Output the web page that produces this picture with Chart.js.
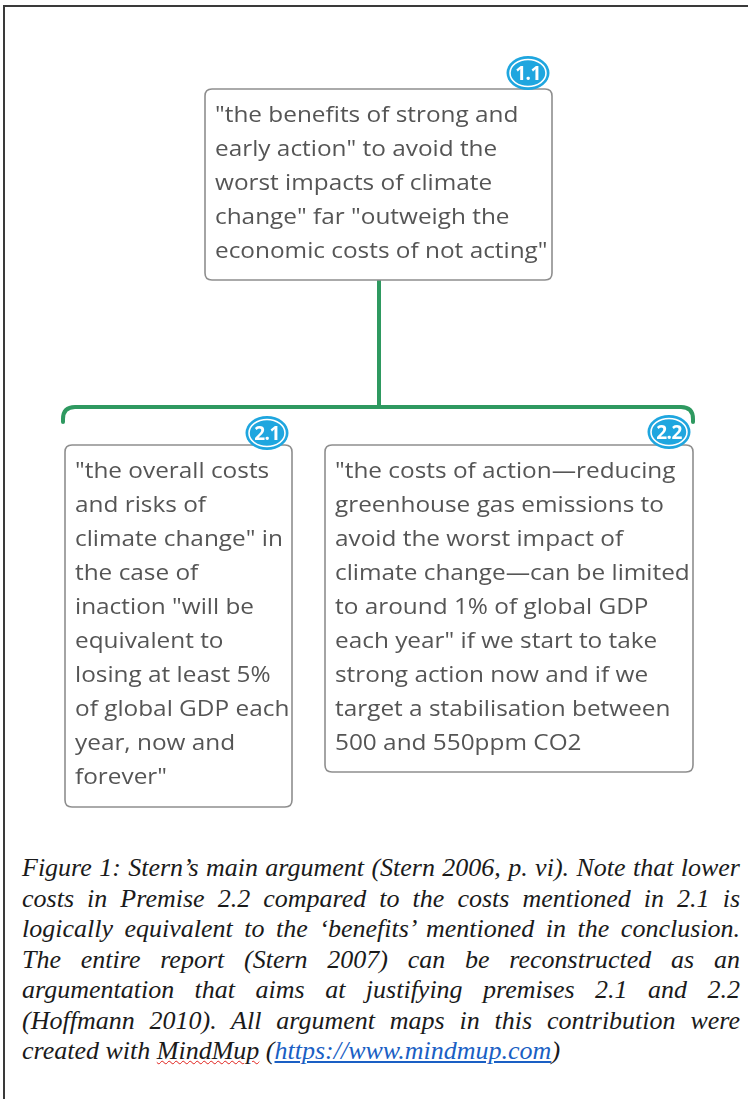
<!DOCTYPE html>
<html>
<head>
<meta charset="utf-8">
<script src="https://cdn.jsdelivr.net/npm/chart.js@4.4.1/dist/chart.umd.min.js"></script>
<style>
  html, body { margin: 0; padding: 0; background: #fff; }
  body { width: 748px; height: 1099px; position: relative; overflow: hidden; }
  #frame { position: absolute; left: 3px; top: 5px; width: 800px; height: 1200px;
           border-left: 2px solid #3a3a3a; border-top: 2px solid #3a3a3a; }
  #map { position: absolute; left: 0; top: 0; }
  .node { position: absolute; font-family: 'Open Sans', sans-serif; font-size: 21px;
          line-height: 34px; color: #555; white-space: nowrap;
          transform: scaleX(1.16); transform-origin: 0 0; }
  .badge { position: absolute; font-family: 'Open Sans', sans-serif; font-weight: bold;
           color: #fff; font-size: 19px; text-align: center; letter-spacing: -0.5px; }
  #caption { position: absolute; left: 22px; top: 853px; width: 718px;
             font-family: 'Liberation Serif', serif; font-style: italic; font-size: 26px;
             line-height: 30.5px; color: #1a1a1a; }
  #caption div { text-align: justify; text-align-last: justify; }
  #caption div.last { text-align-last: left; }
  .spell { text-decoration: underline wavy #e0201b; text-decoration-thickness: 1px; }
  a { color: #1a5fc4; text-decoration: underline; }
</style>
</head>
<body>
<div id="frame"></div>
<canvas id="map" width="748" height="840"></canvas>
<div id="caption"></div>
<script>
// argument map content
const nodeIds = ['1.1', '2.1', '2.2'];
const nodeParents = [null, '1.1', '1.1'];
const nodeLines = [
  ['"the benefits of strong and', 'early action" to avoid the', 'worst impacts of climate',
   'change" far "outweigh the', 'economic costs of not acting"'],
  ['"the overall costs', 'and risks of', 'climate change" in', 'the case of', 'inaction "will be',
   'equivalent to', 'losing at least 5%', 'of global GDP each', 'year, now and', 'forever"'],
  ['"the costs of action\u2014reducing', 'greenhouse gas emissions to', 'avoid the worst impact of',
   'climate change\u2014can be limited', 'to around 1% of global GDP', 'each year" if we start to take',
   'strong action now and if we', 'target a stabilisation between', '500 and 550ppm CO2']
];
const captionLines = [
  'Figure 1: Stern\u2019s main argument (Stern 2006, p. vi). Note that lower',
  'costs in Premise 2.2 compared to the costs mentioned in 2.1 is',
  'logically equivalent to the \u2018benefits\u2019 mentioned in the conclusion.',
  'The entire report (Stern 2007) can be reconstructed as an',
  'argumentation that aims at justifying premises 2.1 and 2.2',
  '(Hoffmann 2010). All argument maps in this contribution were',
  'created with <span class="spell">MindMup</span> (<a href="https://www.mindmup.com">https://www.mindmup.com</a>)'
];

// layout in map units (x0, y0, x1, y1) and badge centres
const boxLayout = {
  '1.1': { box: [205, 89, 552, 280], badge: [528, 73] },
  '2.1': { box: [65, 445, 292, 807], badge: [267, 433] },
  '2.2': { box: [325, 445, 693, 772], badge: [669, 432] }
};
const bracket = { y: 407, left: 63, right: 693, drop: 422, r: 12 };

const GREEN = '#2e9960';
const BLUE = '#1fa6df';

function roundRect(ctx, x0, y0, x1, y1, r) {
  ctx.beginPath();
  ctx.moveTo(x0 + r, y0);
  ctx.lineTo(x1 - r, y0);
  ctx.quadraticCurveTo(x1, y0, x1, y0 + r);
  ctx.lineTo(x1, y1 - r);
  ctx.quadraticCurveTo(x1, y1, x1 - r, y1);
  ctx.lineTo(x0 + r, y1);
  ctx.quadraticCurveTo(x0, y1, x0, y1 - r);
  ctx.lineTo(x0, y0 + r);
  ctx.quadraticCurveTo(x0, y0, x0 + r, y0);
  ctx.closePath();
}

const mapPlugin = {
  id: 'argMap',
  afterDraw(chart) {
    const ctx = chart.ctx;
    const px = v => chart.scales.x.getPixelForValue(v);
    const py = v => chart.scales.y.getPixelForValue(v);
    ctx.save();

    // connectors
    ctx.strokeStyle = GREEN;
    ctx.lineWidth = 4;
    ctx.lineCap = 'round';
    const root = boxLayout[nodeIds[0]].box;
    const stemX = (root[0] + root[2]) / 2 + 0.5;
    ctx.beginPath();
    ctx.moveTo(px(stemX), py(root[3]));
    ctx.lineTo(px(stemX), py(bracket.y));
    ctx.stroke();
    ctx.beginPath();
    ctx.moveTo(px(bracket.left), py(bracket.drop));
    ctx.lineTo(px(bracket.left), py(bracket.y + bracket.r));
    ctx.quadraticCurveTo(px(bracket.left), py(bracket.y), px(bracket.left + bracket.r), py(bracket.y));
    ctx.lineTo(px(bracket.right - bracket.r), py(bracket.y));
    ctx.quadraticCurveTo(px(bracket.right), py(bracket.y), px(bracket.right), py(bracket.y + bracket.r));
    ctx.lineTo(px(bracket.right), py(bracket.drop));
    ctx.stroke();

    // boxes
    nodeIds.forEach(id => {
      const b = boxLayout[id].box;
      roundRect(ctx, px(b[0]), py(b[1]), px(b[2]), py(b[3]), 7);
      ctx.fillStyle = '#fff';
      ctx.fill();
      ctx.strokeStyle = '#8e8e8e';
      ctx.lineWidth = 1.6;
      ctx.stroke();
    });

    // badges
    nodeIds.forEach(id => {
      const c = boxLayout[id].badge;
      ctx.beginPath();
      ctx.ellipse(px(c[0]), py(c[1]), 21.5, 17, 0, 0, Math.PI * 2);
      ctx.fillStyle = BLUE;
      ctx.fill();
      ctx.beginPath();
      ctx.ellipse(px(c[0]), py(c[1]), 18, 13.5, 0, 0, Math.PI * 2);
      ctx.strokeStyle = '#fff';
      ctx.lineWidth = 1.6;
      ctx.stroke();
    });
    ctx.restore();
  }
};

const chart = new Chart(document.getElementById('map'), {
  type: 'scatter',
  data: { datasets: [{ data: [], pointRadius: 0 }] },
  options: {
    responsive: false,
    animation: false,
    events: [],
    layout: { padding: 0 },
    plugins: { legend: { display: false }, tooltip: { enabled: false } },
    scales: {
      x: { type: 'linear', min: 0, max: 748, display: false },
      y: { type: 'linear', min: 0, max: 840, reverse: true, display: false }
    }
  },
  plugins: [mapPlugin]
});

// node texts and badge labels as real text, placed through the scales
const px = v => chart.scales.x.getPixelForValue(v);
const py = v => chart.scales.y.getPixelForValue(v);
nodeIds.forEach((id, i) => {
  const b = boxLayout[id].box;
  const t = document.createElement('div');
  t.className = 'node';
  t.style.left = (px(b[0]) + 10) + 'px';
  t.style.top = (py(b[1]) + 8) + 'px';
  t.innerHTML = nodeLines[i].map(s => s.replace(/&/g, '&amp;').replace(/</g, '&lt;')).join('<br>');
  document.body.appendChild(t);

  const c = boxLayout[id].badge;
  const bd = document.createElement('div');
  bd.className = 'badge';
  bd.style.left = (px(c[0]) - 20) + 'px';
  bd.style.top = (py(c[1]) - 13) + 'px';
  bd.style.width = '40px';
  bd.style.lineHeight = '26px';
  bd.textContent = id;
  document.body.appendChild(bd);
});

const cap = document.getElementById('caption');
cap.innerHTML = captionLines.map((s, i) =>
  '<div' + (i === captionLines.length - 1 ? ' class="last"' : '') + '>' + s + '</div>').join('');
</script>
</body>
</html>
